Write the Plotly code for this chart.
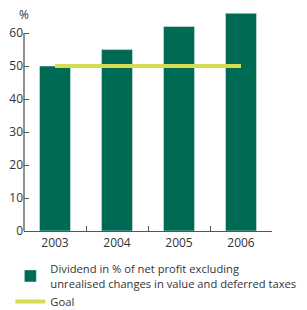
import plotly.graph_objects as go

years = ["2003", "2004", "2005", "2006"]
dividend_pct = [50, 55, 62, 66]
goal_pct = [50, 50, 50, 50]
y_ticks = [0, 10, 20, 30, 40, 50, 60]

GREEN = "#006b54"
YELLOW = "#d6dc52"
TEXT = "#333333"
AXIS = "#555555"

fig = go.Figure()
fig.add_trace(go.Bar(
    x=years, y=dividend_pct, width=0.5, marker_color=GREEN,
    name="Dividend in % of net profit excluding<br>unrealised changes in value and deferred taxes",
))
fig.add_trace(go.Scatter(
    x=years, y=goal_pct, mode="lines",
    line=dict(color=YELLOW, width=4),
    name="Goal",
))

fig.add_shape(type="line", xref="paper", yref="y", x0=0, x1=0, y0=0, y1=60,
              line=dict(color=AXIS, width=1.3))

fig.add_annotation(text="%", xref="paper", yref="y", x=0.0, y=62.5,
                   xanchor="center", yanchor="bottom", showarrow=False,
                   font=dict(size=12, color=TEXT))

fig.update_layout(
    width=307, height=310,
    margin=dict(l=24, r=35, t=10, b=79, autoexpand=False),
    plot_bgcolor="white", paper_bgcolor="white",
    font=dict(family="Open Sans", size=11, color=TEXT),
    showlegend=True,
    legend=dict(orientation="v", x=-0.055, xanchor="left", y=-0.108, yanchor="top",
                font=dict(size=11.2, color=TEXT), tracegroupgap=2,
                bgcolor="rgba(0,0,0,0)"),
    xaxis=dict(type="category", tickson="boundaries", ticks="inside", ticklen=5,
               tickcolor=AXIS, showline=True, linecolor=AXIS, linewidth=1.3,
               showgrid=False, range=[-0.5, 3.5], tickfont=dict(size=12, color=TEXT)),
    yaxis=dict(range=[0, 67], tickvals=y_ticks, ticks="inside", ticklen=5,
               tickcolor=AXIS, showline=False, showgrid=False, zeroline=False,
               tickfont=dict(size=12, color=TEXT)),
)

fig.write_html("out.html", config={"displayModeBar": False},
               post_script="document.body.style.margin='0';")
